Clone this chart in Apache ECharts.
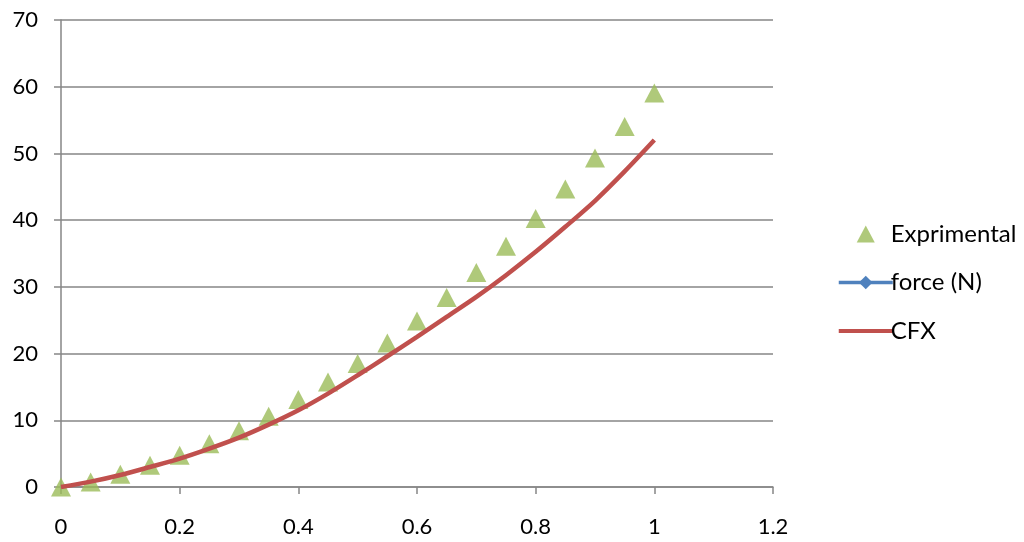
<!DOCTYPE html>
<html>
<head>
<meta charset="utf-8">
<script src="https://cdn.jsdelivr.net/npm/echarts@6/dist/echarts.min.js"></script>
<style>html,body{margin:0;padding:0;background:#fff;}#c{width:1024px;height:542px;}</style>
</head>
<body>
<div id="c"></div>
<script>
var xValues = [0, 0.05, 0.1, 0.15, 0.2, 0.25, 0.3, 0.35, 0.4, 0.45, 0.5, 0.55, 0.6, 0.65, 0.7, 0.75, 0.8, 0.85, 0.9, 0.95, 1.0];
var experimental = [0, 0.75, 1.9, 3.25, 4.75, 6.5, 8.45, 10.6, 13.1, 15.75, 18.5, 21.6, 24.9, 28.4, 32.15, 36.1, 40.25, 44.65, 49.3, 54.05, 59.05];
var cfx = [0, 0.8, 1.8, 3.0, 4.25, 5.75, 7.4, 9.35, 11.5, 14.0, 16.75, 19.6, 22.5, 25.5, 28.5, 31.75, 35.25, 39.0, 42.9, 47.3, 52.0];
var forceN = [];
var seriesNames = ['Exprimental', 'force (N)', 'CFX'];
var xTicks = {min: 0, max: 1.2, interval: 0.2};
var yTicks = {min: 0, max: 70, interval: 10};

function pairs(xs, ys) { return xs.map(function (x, i) { return [x, ys[i]]; }); }

var chart = echarts.init(document.getElementById('c'));
var axisColor = '#868686';
var fontFamily = 'Lato, "Noto Sans", sans-serif';
chart.setOption({
  animation: false,
  grid: {left: 61, right: 251, top: 20, bottom: 55, containLabel: false},
  xAxis: {
    type: 'value', min: xTicks.min, max: xTicks.max, interval: xTicks.interval,
    axisLine: {show: true, lineStyle: {color: axisColor, width: 1.5}},
    axisTick: {show: true, inside: false, length: 7, lineStyle: {color: axisColor, width: 1.5}},
    splitLine: {show: false},
    axisLabel: {color: '#000', fontSize: 22, fontFamily: fontFamily, margin: 29,
      formatter: function (v) { return String(Math.round(v * 10) / 10); }}
  },
  yAxis: {
    type: 'value', min: yTicks.min, max: yTicks.max, interval: yTicks.interval,
    axisLine: {show: true, lineStyle: {color: axisColor, width: 1.5}},
    axisTick: {show: true, inside: false, length: 7, lineStyle: {color: axisColor, width: 1.5}},
    splitLine: {show: true, lineStyle: {color: axisColor, width: 1.5}},
    axisLabel: {color: '#000', fontSize: 22, fontFamily: fontFamily, margin: 23}
  },
  legend: {
    orient: 'vertical', left: 832, top: 217,
    itemWidth: 54, itemHeight: 17, itemGap: 24.5,
    symbolKeepAspect: true,
    textStyle: {color: '#000', fontSize: 24, fontFamily: fontFamily, padding: [0, 0, 0, -7]},
    data: [
      {name: seriesNames[0], icon: 'path://M5,0 L10,9.4 L0,9.4 Z', itemStyle: {color: '#9bbb59'}},
      {name: seriesNames[1], lineStyle: {width: 3.5, color: '#4f81bd'}, itemStyle: {color: '#4f81bd'}},
      {name: seriesNames[2], icon: 'path://M0,0 L54,0 L54,4 L0,4 Z', itemStyle: {color: '#c0504d'}}
    ]
  },
  series: [
    {
      name: seriesNames[0], type: 'scatter', data: pairs(xValues, experimental),
      symbol: 'triangle', symbolSize: [20, 19],
      itemStyle: {color: '#9bbb59'}, z: 2
    },
    {
      name: seriesNames[1], type: 'line', data: forceN,
      symbol: 'diamond', symbolSize: 13,
      lineStyle: {color: '#4f81bd', width: 3.5},
      itemStyle: {color: '#4f81bd'}
    },
    {
      name: seriesNames[2], type: 'line', data: pairs(xValues, cfx),
      smooth: 0.3, symbol: 'none', showSymbol: false,
      lineStyle: {color: '#c0504d', width: 4.5},
      itemStyle: {color: '#c0504d'}, z: 3
    }
  ]
});
</script>
</body>
</html>
